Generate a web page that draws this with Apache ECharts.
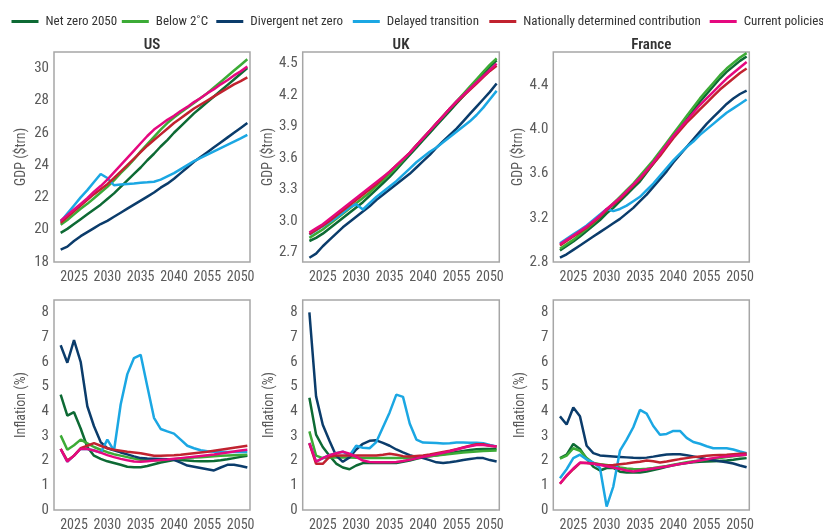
<!DOCTYPE html>
<html>
<head>
<meta charset="utf-8">
<title>GDP and inflation by scenario</title>
<script src="https://cdn.jsdelivr.net/npm/echarts@6/dist/echarts.min.js"></script>
<style>
  html, body { margin: 0; padding: 0; background: #ffffff; }
  #chart { width: 823px; height: 531px; }
</style>
</head>
<body>
<div id="chart"></div>
<script>
// ---- Data -------------------------------------------------------------
const years = [2023, 2024, 2025, 2026, 2027, 2028, 2029, 2030, 2031, 2032,
               2033, 2034, 2035, 2036, 2037, 2038, 2039, 2040, 2041, 2042,
               2043, 2044, 2045, 2046, 2047, 2048, 2049, 2050, 2051];

const scenarios = ['Net zero 2050', 'Below 2˚C', 'Divergent net zero',
                   'Delayed transition', 'Nationally determined contribution', 'Current policies'];

const panelTitles = ['US', 'UK', 'France'];

const xTickYears  = [2025, 2030, 2035, 2040, 2045, 2050];
const xTickLabels = ['2025', '2030', '2035', '2040', '2055', '2050'];

const gdpTicksUS = [18, 20, 22, 24, 26, 28, 30];
const gdpTicksUK = [2.7, 3.0, 3.3, 3.6, 3.9, 4.2, 4.5];
const gdpTicksFR = [2.8, 3.2, 3.6, 4.0, 4.4];
const inflationTicks = [0, 1, 2, 3, 4, 5, 6, 7, 8];

// US GDP ($trn)
const usGdpNetZero   = [19.8, 20.05, 20.35, 20.65, 20.95, 21.25, 21.55, 21.9, 22.25, 22.65, 23.05, 23.45, 23.85, 24.3, 24.7, 25.15, 25.55, 26.0, 26.4, 26.8, 27.2, 27.55, 27.9, 28.25, 28.6, 28.95, 29.3, 29.65, 30.0];
const usGdpBelow2    = [20.3, 20.6, 20.95, 21.3, 21.6, 21.95, 22.3, 22.65, 23.05, 23.5, 23.9, 24.35, 24.85, 25.3, 25.75, 26.2, 26.6, 26.95, 27.25, 27.55, 27.85, 28.15, 28.45, 28.8, 29.15, 29.5, 29.85, 30.2, 30.55];
const usGdpDivergent = [18.77, 18.95, 19.3, 19.6, 19.85, 20.1, 20.35, 20.55, 20.8, 21.05, 21.3, 21.55, 21.8, 22.05, 22.3, 22.6, 22.85, 23.15, 23.5, 23.85, 24.2, 24.5, 24.8, 25.1, 25.4, 25.7, 26.0, 26.3, 26.6];
const usGdpDelayed   = [20.5, 21.0, 21.5, 22.0, 22.45, 22.95, 23.45, 23.2, 22.75, 22.8, 22.83, 22.86, 22.9, 22.93, 22.97, 23.1, 23.3, 23.5, 23.75, 24.0, 24.25, 24.45, 24.65, 24.85, 25.05, 25.25, 25.45, 25.65, 25.87];
const usGdpNdc       = [20.42, 20.78, 21.14, 21.5, 21.85, 22.2, 22.5, 22.82, 23.2, 23.6, 24.0, 24.4, 24.8, 25.2, 25.55, 25.9, 26.25, 26.6, 26.9, 27.2, 27.5, 27.75, 28.0, 28.25, 28.5, 28.75, 29.0, 29.2, 29.43];
const usGdpCurrent   = [20.55, 20.9, 21.25, 21.6, 21.95, 22.35, 22.7, 23.1, 23.55, 24.0, 24.45, 24.9, 25.35, 25.8, 26.2, 26.5, 26.8, 27.05, 27.35, 27.6, 27.9, 28.15, 28.45, 28.7, 29.0, 29.25, 29.55, 29.8, 30.1];

// UK GDP ($trn)
const ukGdpNetZero   = [2.81, 2.84, 2.88, 2.93, 2.98, 3.03, 3.08, 3.13, 3.18, 3.24, 3.30, 3.36, 3.42, 3.49, 3.56, 3.63, 3.70, 3.77, 3.84, 3.91, 3.98, 4.05, 4.12, 4.19, 4.26, 4.33, 4.40, 4.47, 4.53];
const ukGdpBelow2    = [2.84, 2.88, 2.92, 2.97, 3.02, 3.07, 3.12, 3.17, 3.22, 3.27, 3.33, 3.39, 3.45, 3.51, 3.58, 3.65, 3.72, 3.79, 3.86, 3.93, 4.0, 4.07, 4.14, 4.21, 4.28, 4.35, 4.42, 4.49, 4.55];
const ukGdpDivergent = [2.65, 2.69, 2.76, 2.82, 2.88, 2.94, 2.99, 3.04, 3.09, 3.14, 3.20, 3.25, 3.30, 3.35, 3.40, 3.45, 3.51, 3.57, 3.63, 3.70, 3.76, 3.82, 3.88, 3.95, 4.02, 4.09, 4.16, 4.23, 4.31];
const ukGdpDelayed   = [2.87, 2.91, 2.95, 2.99, 3.03, 3.08, 3.13, 3.16, 3.11, 3.17, 3.23, 3.28, 3.33, 3.38, 3.44, 3.50, 3.56, 3.61, 3.66, 3.70, 3.75, 3.80, 3.85, 3.90, 3.95, 4.01, 4.08, 4.16, 4.24];
const ukGdpNdc       = [2.875, 2.915, 2.955, 3.0, 3.05, 3.1, 3.15, 3.2, 3.25, 3.3, 3.35, 3.41, 3.47, 3.53, 3.59, 3.65, 3.72, 3.79, 3.86, 3.93, 4.0, 4.07, 4.13, 4.19, 4.25, 4.31, 4.37, 4.43, 4.48];
const ukGdpCurrent   = [2.89, 2.93, 2.97, 3.02, 3.07, 3.12, 3.17, 3.22, 3.27, 3.32, 3.37, 3.42, 3.47, 3.53, 3.59, 3.65, 3.72, 3.79, 3.86, 3.93, 4.0, 4.07, 4.14, 4.20, 4.26, 4.32, 4.38, 4.44, 4.50];

// France GDP ($trn)
const frGdpNetZero   = [2.905, 2.945, 2.985, 3.03, 3.08, 3.13, 3.18, 3.24, 3.29, 3.35, 3.41, 3.47, 3.53, 3.61, 3.69, 3.77, 3.85, 3.93, 4.01, 4.09, 4.17, 4.25, 4.32, 4.39, 4.46, 4.52, 4.57, 4.62, 4.66];
const frGdpBelow2    = [2.92, 2.96, 3.0, 3.05, 3.1, 3.15, 3.21, 3.27, 3.33, 3.39, 3.45, 3.51, 3.58, 3.65, 3.72, 3.80, 3.88, 3.96, 4.04, 4.12, 4.20, 4.28, 4.35, 4.42, 4.49, 4.55, 4.60, 4.65, 4.69];
const frGdpDivergent = [2.84, 2.87, 2.91, 2.95, 2.99, 3.03, 3.07, 3.11, 3.15, 3.19, 3.24, 3.29, 3.35, 3.41, 3.48, 3.55, 3.62, 3.70, 3.77, 3.84, 3.91, 3.98, 4.05, 4.11, 4.17, 4.23, 4.28, 4.32, 4.35];
const frGdpDelayed   = [2.97, 3.01, 3.05, 3.09, 3.13, 3.18, 3.23, 3.28, 3.26, 3.28, 3.31, 3.35, 3.39, 3.45, 3.51, 3.58, 3.65, 3.72, 3.78, 3.84, 3.89, 3.95, 4.0, 4.05, 4.10, 4.15, 4.19, 4.23, 4.27];
const frGdpNdc       = [2.95, 2.99, 3.03, 3.07, 3.11, 3.16, 3.21, 3.27, 3.32, 3.37, 3.43, 3.49, 3.55, 3.62, 3.69, 3.76, 3.84, 3.92, 3.99, 4.06, 4.12, 4.18, 4.24, 4.30, 4.36, 4.41, 4.46, 4.51, 4.55];
const frGdpCurrent   = [2.96, 3.0, 3.04, 3.08, 3.12, 3.17, 3.22, 3.28, 3.33, 3.38, 3.44, 3.50, 3.56, 3.63, 3.70, 3.78, 3.86, 3.94, 4.01, 4.08, 4.15, 4.22, 4.28, 4.34, 4.40, 4.46, 4.51, 4.56, 4.61];

// US inflation (%)
const usInfNetZero   = [4.67, 3.82, 3.96, 3.3, 2.55, 2.2, 2.07, 1.97, 1.9, 1.83, 1.75, 1.73, 1.73, 1.78, 1.85, 1.92, 1.97, 2.02, 2.02, 2.0, 1.98, 1.97, 1.97, 1.98, 2.01, 2.05, 2.1, 2.15, 2.2];
const usInfBelow2    = [3.02, 2.44, 2.62, 2.85, 2.7, 2.55, 2.44, 2.34, 2.26, 2.2, 2.14, 2.08, 2.03, 2.0, 2.0, 2.01, 2.03, 2.05, 2.08, 2.1, 2.12, 2.14, 2.16, 2.18, 2.2, 2.21, 2.22, 2.23, 2.24];
const usInfDivergent = [6.67, 5.96, 6.88, 6.0, 4.2, 3.39, 2.75, 2.5, 2.42, 2.33, 2.25, 2.17, 2.1, 2.08, 2.07, 2.06, 2.05, 2.03, 1.92, 1.8, 1.75, 1.7, 1.65, 1.6, 1.72, 1.83, 1.83, 1.78, 1.72];
const usInfDelayed   = [2.47, 1.96, 2.2, 2.48, 2.47, 2.41, 2.32, 2.85, 2.4, 4.27, 5.5, 6.15, 6.28, 5.0, 3.73, 3.28, 3.18, 3.09, 2.85, 2.6, 2.5, 2.42, 2.38, 2.36, 2.35, 2.35, 2.35, 2.35, 2.35];
const usInfNdc       = [2.47, 2.0, 2.2, 2.5, 2.6, 2.71, 2.6, 2.5, 2.44, 2.4, 2.36, 2.33, 2.3, 2.25, 2.2, 2.2, 2.21, 2.22, 2.24, 2.27, 2.3, 2.33, 2.36, 2.4, 2.44, 2.48, 2.52, 2.56, 2.6];
const usInfCurrent   = [2.47, 1.96, 2.2, 2.48, 2.47, 2.41, 2.32, 2.22, 2.14, 2.07, 2.01, 1.96, 1.95, 1.97, 2.0, 2.02, 2.04, 2.07, 2.1, 2.13, 2.16, 2.19, 2.22, 2.25, 2.29, 2.33, 2.37, 2.41, 2.44];

// UK inflation (%)
const ukInfNetZero   = [4.54, 3.05, 2.55, 2.2, 1.88, 1.72, 1.65, 1.8, 1.9, 1.9, 1.9, 1.9, 1.9, 1.9, 1.95, 2.0, 2.07, 2.13, 2.18, 2.22, 2.26, 2.3, 2.35, 2.39, 2.43, 2.46, 2.47, 2.47, 2.47];
const ukInfBelow2    = [3.18, 2.2, 2.1, 2.12, 2.13, 2.13, 2.12, 2.11, 2.1, 2.1, 2.1, 2.1, 2.1, 2.1, 2.1, 2.1, 2.1, 2.15, 2.18, 2.21, 2.24, 2.27, 2.3, 2.33, 2.35, 2.37, 2.39, 2.4, 2.41];
const ukInfDivergent = [8.0, 4.6, 3.45, 2.8, 2.2, 1.95, 2.13, 2.45, 2.68, 2.8, 2.82, 2.72, 2.6, 2.45, 2.33, 2.22, 2.15, 2.1, 2.02, 1.93, 1.9, 1.93, 1.97, 2.02, 2.06, 2.1, 2.1, 2.02, 1.96];
const ukInfDelayed   = [2.71, 1.96, 2.1, 2.22, 2.3, 2.36, 2.2, 2.6, 2.52, 2.5, 2.75, 3.35, 3.95, 4.67, 4.58, 3.5, 2.85, 2.73, 2.72, 2.71, 2.69, 2.7, 2.73, 2.73, 2.72, 2.72, 2.7, 2.63, 2.57];
const ukInfNdc       = [2.7, 1.87, 1.87, 2.15, 2.21, 2.21, 2.21, 2.21, 2.21, 2.21, 2.21, 2.24, 2.28, 2.24, 2.18, 2.17, 2.19, 2.21, 2.25, 2.3, 2.35, 2.4, 2.46, 2.53, 2.6, 2.66, 2.66, 2.6, 2.57];
const ukInfCurrent   = [2.71, 1.96, 2.1, 2.22, 2.3, 2.36, 2.28, 2.15, 2.0, 1.94, 1.93, 1.93, 1.93, 1.94, 1.98, 2.03, 2.09, 2.15, 2.2, 2.26, 2.32, 2.38, 2.45, 2.52, 2.58, 2.63, 2.63, 2.6, 2.57];

// France inflation (%)
const frInfNetZero   = [2.1, 2.24, 2.67, 2.47, 2.08, 1.75, 1.6, 1.7, 1.7, 1.55, 1.52, 1.52, 1.52, 1.56, 1.62, 1.68, 1.75, 1.81, 1.86, 1.9, 1.93, 1.95, 1.96, 1.97, 1.98, 2.0, 2.03, 2.07, 2.1];
const frInfBelow2    = [2.08, 2.2, 2.5, 2.4, 2.1, 1.9, 1.85, 1.82, 1.78, 1.72, 1.68, 1.66, 1.65, 1.67, 1.7, 1.74, 1.78, 1.83, 1.88, 1.93, 1.97, 2.0, 2.04, 2.07, 2.1, 2.14, 2.18, 2.21, 2.24];
const frInfDivergent = [3.79, 3.46, 4.15, 3.79, 2.6, 2.3, 2.21, 2.19, 2.17, 2.15, 2.13, 2.11, 2.1, 2.12, 2.16, 2.21, 2.25, 2.26, 2.26, 2.22, 2.17, 2.12, 2.06, 2.01, 1.97, 1.93, 1.88, 1.8, 1.73];
const frInfDelayed   = [1.29, 1.65, 2.1, 2.24, 2.05, 1.92, 1.7, 0.14, 0.95, 2.4, 2.85, 3.35, 4.05, 3.9, 3.4, 3.05, 3.08, 3.2, 3.2, 2.92, 2.75, 2.68, 2.58, 2.5, 2.5, 2.5, 2.45, 2.37, 2.3];
const frInfNdc       = [1.06, 1.38, 1.65, 1.9, 1.9, 1.88, 1.84, 1.8, 1.82, 1.85, 1.88, 1.92, 1.95, 2.0, 1.97, 1.92, 1.96, 2.01, 2.06, 2.1, 2.14, 2.17, 2.2, 2.22, 2.23, 2.24, 2.26, 2.28, 2.29];
const frInfCurrent   = [1.06, 1.4, 1.68, 1.92, 1.9, 1.87, 1.82, 1.77, 1.72, 1.66, 1.6, 1.56, 1.6, 1.64, 1.68, 1.72, 1.76, 1.81, 1.86, 1.9, 1.95, 2.0, 2.05, 2.1, 2.14, 2.17, 2.2, 2.22, 2.24];

// ---- Styling ----------------------------------------------------------
// Roboto drawn at its condensed width (the stretch keyword rides in the weight slot
// of the canvas font string).
const FONT = "Roboto, 'Open Sans', sans-serif";
const REGULAR = 'condensed';
const BOLD = '600 condensed';
const colors = ['#0d6a34', '#3cab36', '#0b3c6b', '#1ba7e3', '#c1222f', '#e5087f'];
const AXIS_TEXT = '#5a5a5a';
const BORDER = '#a6a6a6';

// Panel boxes: [left, top, width, height]
const boxes = [
  [54, 52, 196, 210], [302.7, 52, 196.6, 210], [553.3, 52, 196, 210],
  [54, 300, 196, 210], [302.7, 300, 196.6, 210], [553.3, 300, 196, 210]
];

const panels = [
  { series: [usGdpNetZero, usGdpBelow2, usGdpDivergent, usGdpDelayed, usGdpNdc, usGdpCurrent], min: 18, max: 31, ticks: gdpTicksUS, digits: 0, name: 'GDP ($trn)' },
  { series: [ukGdpNetZero, ukGdpBelow2, ukGdpDivergent, ukGdpDelayed, ukGdpNdc, ukGdpCurrent], min: 2.61, max: 4.61, ticks: gdpTicksUK, digits: 1, name: 'GDP ($trn)' },
  { series: [frGdpNetZero, frGdpBelow2, frGdpDivergent, frGdpDelayed, frGdpNdc, frGdpCurrent], min: 2.8, max: 4.7, ticks: gdpTicksFR, digits: 1, name: 'GDP ($trn)' },
  { series: [usInfNetZero, usInfBelow2, usInfDivergent, usInfDelayed, usInfNdc, usInfCurrent], min: 0, max: 8.5, ticks: inflationTicks, digits: 0, name: 'Inflation (%)' },
  { series: [ukInfNetZero, ukInfBelow2, ukInfDivergent, ukInfDelayed, ukInfNdc, ukInfCurrent], min: 0, max: 8.5, ticks: inflationTicks, digits: 0, name: 'Inflation (%)' },
  { series: [frInfNetZero, frInfBelow2, frInfDivergent, frInfDelayed, frInfNdc, frInfCurrent], min: 0, max: 8.5, ticks: inflationTicks, digits: 0, name: 'Inflation (%)' }
];

const grid = boxes.map(b => ({
  left: b[0], top: b[1], width: b[2], height: b[3],
  show: true, borderColor: BORDER, borderWidth: 1.5, backgroundColor: 'transparent',
  containLabel: false, outerBoundsMode: 'none'
}));

const xAxis = boxes.map((b, i) => ({
  type: 'value', gridIndex: i, min: 2022, max: 2051.4,
  axisLine: { show: false }, axisTick: { show: false }, splitLine: { show: false },
  axisLabel: {
    customValues: xTickYears,
    margin: 8, color: AXIS_TEXT, fontFamily: FONT, fontWeight: REGULAR, fontSize: 14,
    formatter: v => xTickLabels[xTickYears.indexOf(Math.round(v))] || ''
  }
}));

const yAxis = panels.map((p, i) => ({
  type: 'value', gridIndex: i, min: p.min, max: p.max,
  axisLine: { show: false }, axisTick: { show: false }, splitLine: { show: false },
  axisLabel: {
    customValues: p.ticks,
    margin: 5, color: AXIS_TEXT, fontFamily: FONT, fontWeight: REGULAR, fontSize: 15,
    formatter: v => v.toFixed(p.digits)
  },
  name: p.name, nameLocation: 'middle', nameGap: 26,
  nameTextStyle: { color: AXIS_TEXT, fontFamily: FONT, fontWeight: REGULAR, fontSize: 14 }
}));

const series = [];
panels.forEach((p, gi) => {
  p.series.forEach((vals, si) => {
    series.push({
      name: scenarios[si], type: 'line',
      xAxisIndex: gi, yAxisIndex: gi,
      data: years.map((y, k) => [y, vals[k]]),
      symbol: 'none', smooth: false, animation: false,
      lineStyle: { width: 2.5, color: colors[si] },
      itemStyle: { color: colors[si] },
      emphasis: { disabled: true }
    });
  });
});

// One legend per scenario so each entry sits at its own place in the top row
const legendLefts = [11.5, 121.8, 216.3, 352.8, 489.3, 709.7];
const legend = scenarios.map((s, i) => ({
  data: [s], left: legendLefts[i], top: 15, padding: 0,
  icon: 'rect', itemWidth: 27, itemHeight: 3, itemGap: 0,
  textStyle: { color: '#333333', fontFamily: FONT, fontWeight: REGULAR, fontSize: 13, padding: [0, 0, 0, 2] },
  selectedMode: false
}));

const title = panelTitles.map((t, i) => ({
  text: t, left: boxes[i][0] + boxes[i][2] / 2, top: 38, textAlign: 'center', padding: 0,
  textStyle: { color: '#333333', fontFamily: FONT, fontWeight: BOLD, fontSize: 15 }
}));

const chart = echarts.init(document.getElementById('chart'), null, { renderer: 'canvas' });
chart.setOption({
  animation: false,
  color: colors,
  backgroundColor: '#ffffff',
  title, legend, grid, xAxis, yAxis, series
});
</script>
</body>
</html>
